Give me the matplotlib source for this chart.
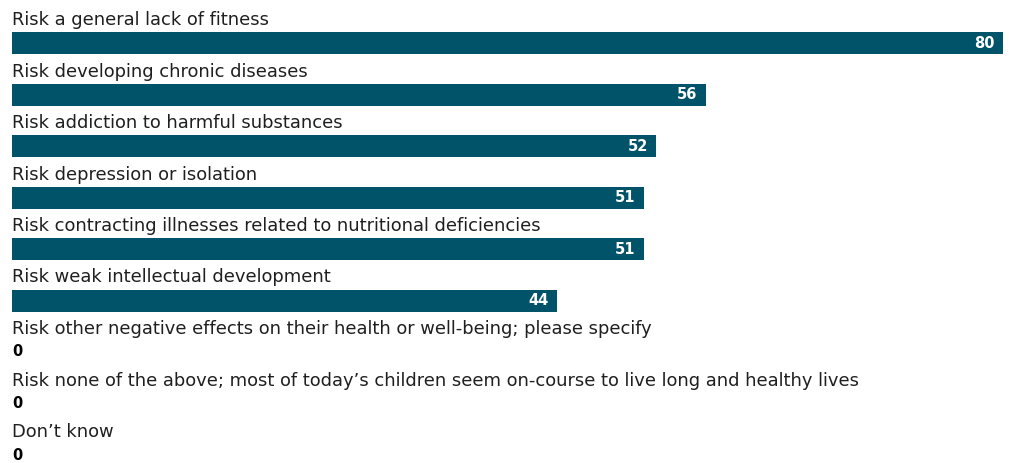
import numpy as np
import matplotlib.pyplot as plt

# answers and share of respondents (%)
categories = [
    "Risk a general lack of fitness",
    "Risk developing chronic diseases",
    "Risk addiction to harmful substances",
    "Risk depression or isolation",
    "Risk contracting illnesses related to nutritional deficiencies",
    "Risk weak intellectual development",
    "Risk other negative effects on their health or well-being; please specify",
    "Risk none of the above; most of today\u2019s children seem on-course to live long and healthy lives",
    "Don\u2019t know",
]
values = [80, 56, 52, 51, 51, 44, 0, 0, 0]

bar_color = "#005369"
text_color = "#1f1f1f"

W, H = 1009, 463
fig = plt.figure(figsize=(W / 100, H / 100), dpi=100)
# axes spans the full bar length, left edge at x=12px, right edge at 1003px
ax = fig.add_axes([12 / W, 0, (1003 - 12) / W, 1])

pitch = 51.5
first = 43.0
ymin = -first / pitch
ymax = (H - first) / pitch
ax.set_xlim(0, 80)
ax.set_ylim(ymax, ymin)
ax.axis("off")

y = np.arange(len(categories))
ax.barh(y, values, height=22 / pitch, color=bar_color, left=0)

for i, (cat, v) in enumerate(zip(categories, values)):
    ax.text(0, i - 18 / pitch, cat, ha="left", va="baseline",
            fontsize=12.9, color=text_color, family="DejaVu Sans")
    if v > 0:
        ax.text(v - 0.65, i, str(v), ha="right", va="center", fontsize=10.5,
                fontweight="bold", color="white", family="DejaVu Sans")
    else:
        ax.text(0, i, str(v), ha="left", va="center", fontsize=10.5,
                fontweight="bold", color="black", family="DejaVu Sans")

fig.savefig("out.png", dpi=100)
